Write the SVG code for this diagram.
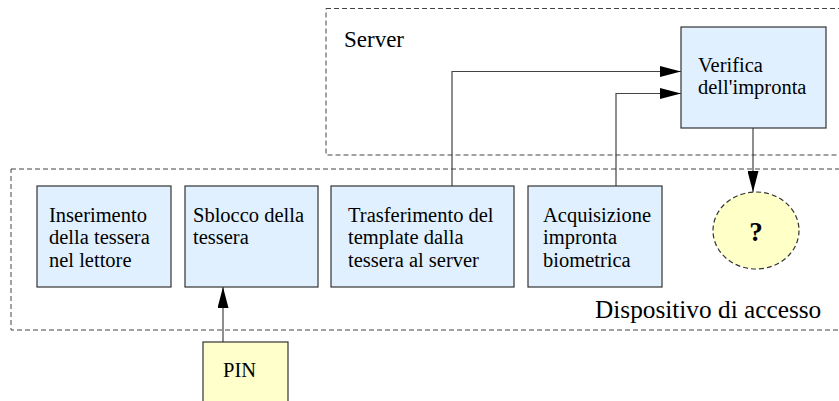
<svg xmlns="http://www.w3.org/2000/svg" width="839" height="401" viewBox="0 0 839 401">
<style>
.t{font-family:"Liberation Serif","Times New Roman",serif;font-size:20.5px;fill:#000}
.box{fill:#e0f0ff;stroke:#333;stroke-width:1.2}
.pin{fill:#ffffcc;stroke:#333;stroke-width:1.2}
.zone{fill:none;stroke:#444;stroke-width:1;stroke-dasharray:5 3}
.c{fill:none;stroke:#444;stroke-width:1.2}
</style>
<defs>
<marker id="ah" markerWidth="21" markerHeight="11" refX="21" refY="5.5" orient="auto" markerUnits="userSpaceOnUse">
<path d="M0,0 L21,5.5 L0,11 Z" fill="#000"/>
</marker>
</defs>
<g id="zone-server">
<rect class="zone" x="326" y="8.5" width="530" height="146.5"/>
<text class="t" x="344" y="47" style="font-size:23px">Server</text>
</g>
<g id="zone-dispositivo">
<rect class="zone" x="11" y="169" width="845" height="161"/>
<text class="t" x="595" y="318" style="font-size:25.3px">Dispositivo di accesso</text>
</g>
<g id="connectors">
<path class="c" d="M452,186 V71.5 H681" marker-end="url(#ah)"/>
<path class="c" d="M616,186 V93.5 H681" marker-end="url(#ah)"/>
<path class="c" d="M753,128 V192" marker-end="url(#ah)"/>
<path class="c" d="M223,342 V287" marker-end="url(#ah)"/>
</g>
<g id="n-inserimento">
<rect class="box" x="37" y="186" width="134" height="101"/>
<text class="t" x="49" y="221.5">Inserimento</text>
<text class="t" x="49" y="244">della tessera</text>
<text class="t" x="49" y="266.5">nel lettore</text>
</g>
<g id="n-sblocco">
<rect class="box" x="185" y="186" width="133" height="101"/>
<text class="t" x="193" y="221.5">Sblocco della</text>
<text class="t" x="193" y="244">tessera</text>
</g>
<g id="n-trasferimento">
<rect class="box" x="331" y="186" width="183" height="101"/>
<text class="t" x="348" y="221.5">Trasferimento del</text>
<text class="t" x="348" y="244">template dalla</text>
<text class="t" x="348" y="266.5">tessera al server</text>
</g>
<g id="n-acquisizione">
<rect class="box" x="528" y="186" width="134" height="101"/>
<text class="t" x="543" y="221.5">Acquisizione</text>
<text class="t" x="543" y="244">impronta</text>
<text class="t" x="543" y="266.5">biometrica</text>
</g>
<g id="n-verifica">
<rect class="box" x="681" y="27" width="145" height="101"/>
<text class="t" x="698" y="71.5">Verifica</text>
<text class="t" x="698" y="94">dell'impronta</text>
</g>
<g id="n-esito">
<ellipse cx="756" cy="230.5" rx="43" ry="38.5" fill="#ffffc8" stroke="#333" stroke-width="1.2" stroke-dasharray="5 3"/>
<text class="t" x="756" y="240.5" text-anchor="middle" font-weight="bold" style="font-size:27px">?</text>
</g>
<g id="n-pin">
<rect class="pin" x="203" y="342" width="85" height="70"/>
<text class="t" x="223" y="377">PIN</text>
</g>
</svg>
